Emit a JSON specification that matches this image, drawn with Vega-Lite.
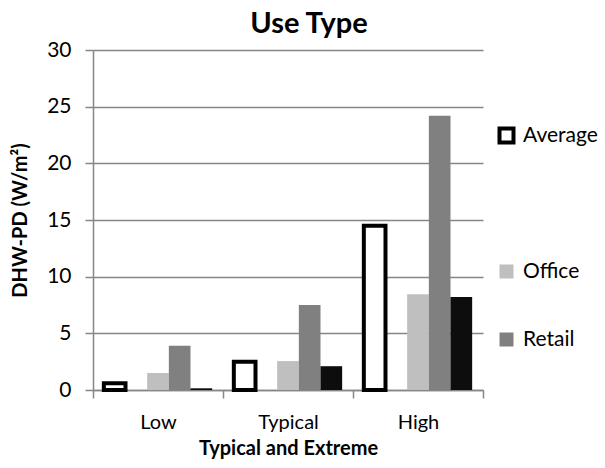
{
  "$schema": "https://vega.github.io/schema/vega-lite/v6.json",
  "width": 390,
  "height": 340,
  "autosize": {"type": "none"},
  "padding": {"left": 93, "top": 50, "right": 122, "bottom": 78},
  "background": "white",
  "title": {
    "text": "Use Type",
    "font": "Lato",
    "fontSize": 29,
    "fontWeight": "bold",
    "color": "black",
    "anchor": "middle",
    "dx": 21,
    "offset": 0
  },
  "data": {
    "values": [
      {"level": "Low", "type": "Average", "value": 0.6},
      {"level": "Low", "type": "Office", "value": 1.5},
      {"level": "Low", "type": "Retail", "value": 3.9},
      {"level": "Low", "type": "Warehouse", "value": 0.15},
      {"level": "Typical", "type": "Average", "value": 2.5},
      {"level": "Typical", "type": "Office", "value": 2.55},
      {"level": "Typical", "type": "Retail", "value": 7.5},
      {"level": "Typical", "type": "Warehouse", "value": 2.1},
      {"level": "High", "type": "Average", "value": 14.5},
      {"level": "High", "type": "Office", "value": 8.45},
      {"level": "High", "type": "Retail", "value": 24.2},
      {"level": "High", "type": "Warehouse", "value": 8.2}
    ]
  },
  "mark": {"type": "bar", "strokeWidth": 4, "strokeJoin": "miter"},
  "encoding": {
    "x": {
      "field": "level",
      "type": "nominal",
      "sort": ["Low", "Typical", "High"],
      "scale": {"paddingInner": 0, "paddingOuter": 0},
      "axis": {
        "title": "Typical and Extreme",
        "titleFont": "Lato",
        "titleFontSize": 20,
        "titleFontWeight": "bold",
        "titleColor": "black",
        "titlePadding": 6,
        "labelFont": "Lato",
        "labelFontSize": 20,
        "labelColor": "black",
        "labelAngle": 0,
        "labelPadding": 14,
        "tickBand": "extent",
        "tickSize": 8,
        "tickColor": "#868686",
        "tickWidth": 1.5,
        "domainColor": "#868686",
        "domainWidth": 1.5,
        "grid": false
      }
    },
    "xOffset": {
      "field": "type",
      "type": "nominal",
      "scale": {"domain": ["Average", "Blank", "Office", "Retail", "Warehouse"], "paddingInner": 0, "paddingOuter": 0.5}
    },
    "y": {
      "field": "value",
      "type": "quantitative",
      "scale": {"domain": [0, 30], "nice": false},
      "axis": {
        "title": "DHW-PD (W/m²)",
        "titleFont": "Lato",
        "titleFontSize": 20,
        "titleFontWeight": "bold",
        "titleColor": "black",
        "titlePadding": 16,
        "labelFont": "Lato",
        "labelFontSize": 21,
        "labelColor": "black",
        "labelPadding": 14,
        "values": [0, 5, 10, 15, 20, 25, 30],
        "tickSize": 8,
        "tickColor": "#868686",
        "tickWidth": 1.5,
        "domainColor": "#868686",
        "domainWidth": 1.5,
        "grid": true,
        "gridColor": "#868686",
        "gridWidth": 1.5
      }
    },
    "fill": {
      "field": "type",
      "type": "nominal",
      "scale": {"domain": ["Average", "Blank", "Office", "Retail", "Warehouse"], "range": ["white", "transparent", "#bfbfbf", "#808080", "#0d0d0d"]},
      "legend": {
        "title": null,
        "orient": "none",
        "legendX": 403,
        "legendY": 75,
        "values": ["Average", "Blank", "Office", "Retail"],
        "labelExpr": "datum.label == 'Blank' ? '\u00a0' : datum.label",
        "symbolType": "square",
        "symbolSize": 196,
        "symbolStrokeWidth": 4,
        "labelFont": "Lato",
        "labelFontSize": 21,
        "labelColor": "black",
        "labelOffset": 6,
        "rowPadding": 37
      }
    },
    "stroke": {
      "field": "type",
      "type": "nominal",
      "scale": {"domain": ["Average", "Blank", "Office", "Retail", "Warehouse"], "range": ["black", "transparent", "transparent", "transparent", "transparent"]},
      "legend": {
        "title": null,
        "orient": "none",
        "legendX": 403,
        "legendY": 75,
        "values": ["Average", "Blank", "Office", "Retail"],
        "labelExpr": "datum.label == 'Blank' ? '\u00a0' : datum.label",
        "symbolType": "square",
        "symbolSize": 196,
        "symbolStrokeWidth": 4,
        "labelFont": "Lato",
        "labelFontSize": 21,
        "labelColor": "black",
        "labelOffset": 6,
        "rowPadding": 37
      }
    }
  },
  "config": {
    "view": {"stroke": null}
  }
}
